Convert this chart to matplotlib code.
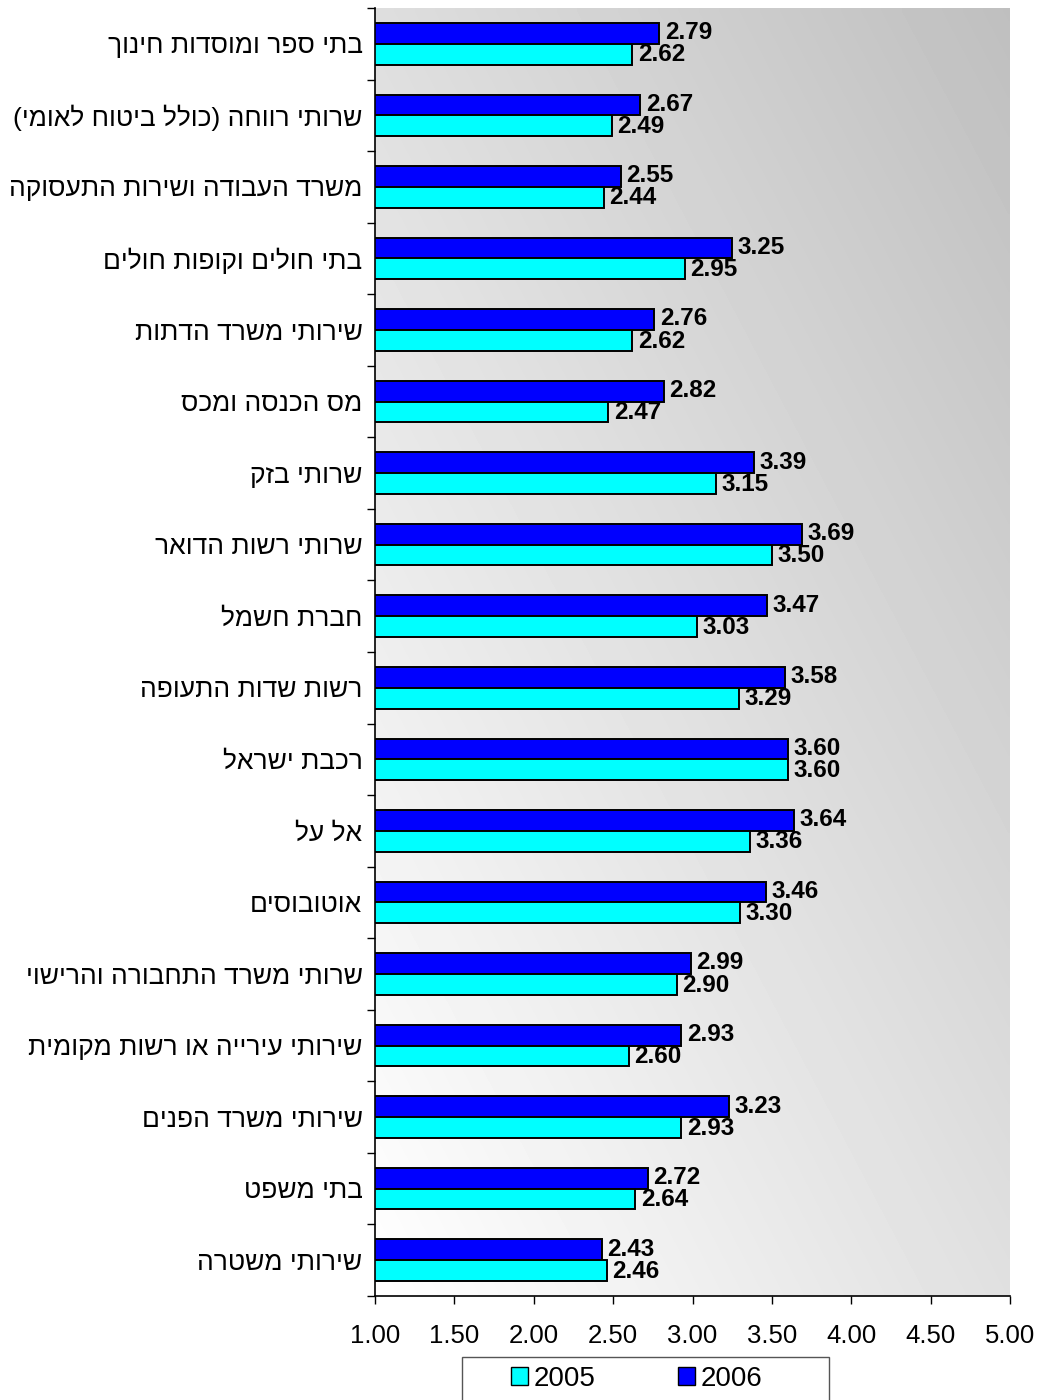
import matplotlib
matplotlib.use("Agg")
import matplotlib.pyplot as plt
import numpy as np
from matplotlib.patches import Patch, Rectangle

plt.rcParams['font.family'] = ['Liberation Sans', 'DejaVu Sans']

# קטגוריות (סדר מלמעלה למטה)
categories = [
    "בתי ספר ומוסדות חינוך",
    "שרותי רווחה (כולל ביטוח לאומי)",
    "משרד העבודה ושירות התעסוקה",
    "בתי חולים וקופות חולים",
    "שירותי משרד הדתות",
    "מס הכנסה ומכס",
    "שרותי בזק",
    "שרותי רשות הדואר",
    "חברת חשמל",
    "רשות שדות התעופה",
    "רכבת ישראל",
    "אל על",
    "אוטובוסים",
    "שרותי משרד התחבורה והרישוי",
    "שירותי עירייה או רשות מקומית",
    "שירותי משרד הפנים",
    "בתי משפט",
    "שירותי משטרה",
]
vals_2006 = [2.79, 2.67, 2.55, 3.25, 2.76, 2.82, 3.39, 3.69, 3.47,
             3.58, 3.60, 3.64, 3.46, 2.99, 2.93, 3.23, 2.72, 2.43]
vals_2005 = [2.62, 2.49, 2.44, 2.95, 2.62, 2.47, 3.15, 3.50, 3.03,
             3.29, 3.60, 3.36, 3.30, 2.90, 2.60, 2.93, 2.64, 2.46]
xticks = [1.00, 1.50, 2.00, 2.50, 3.00, 3.50, 4.00, 4.50, 5.00]


def rtl(s):
    # matplotlib אינו תומך ב-bidi: הופכים את המחרוזת ומחליפים סוגריים
    swap = {'(': ')', ')': '('}
    return ''.join(swap.get(c, c) for c in s[::-1])


W, H = 1042, 1400
fig = plt.figure(figsize=(W / 100, H / 100), dpi=100)
ax = fig.add_axes([375 / W, 1 - 1296 / H, 635 / W, (1296 - 8) / H])

# רקע מדורג
nx, ny = 200, 200
xf = np.linspace(0, 1, nx)[None, :]
yf = np.linspace(0, 1, ny)[:, None]
grad = (255 - 31 * xf - 33 * yf) / 255.0
ax.imshow(grad, cmap='gray', vmin=0, vmax=1, extent=(0, 1, 1, 0),
          transform=ax.transAxes, aspect='auto', zorder=0, interpolation='bilinear')

y = np.arange(len(categories))
h = 0.29
ax.barh(y - h / 2, vals_2006, height=h, left=0, color='#0000FF',
        edgecolor='black', linewidth=1.4, zorder=2)
ax.barh(y + h / 2, vals_2005, height=h, left=0, color='#00FFFF',
        edgecolor='black', linewidth=1.4, zorder=2)

for yi, v6, v5 in zip(y, vals_2006, vals_2005):
    ax.annotate(f"{v6:.2f}", (v6, yi - h / 2), xytext=(4, 0.5), textcoords='offset points',
                ha='left', va='center', fontsize=17.5, fontweight='bold', zorder=3)
    ax.annotate(f"{v5:.2f}", (v5, yi + h / 2), xytext=(4, -0.5), textcoords='offset points',
                ha='left', va='center', fontsize=17.5, fontweight='bold', zorder=3)

ax.set_xlim(1, 5)
ax.set_ylim(len(categories) - 0.5, -0.5)

ax.set_xticks(xticks)
ax.set_xticklabels([f"{t:.2f}" for t in xticks], fontsize=18.5)
ax.tick_params(axis='x', direction='out', length=6, width=1, pad=14)

ax.set_yticks(y)
ax.set_yticklabels([rtl(c) for c in categories], fontsize=19)
ax.set_yticks(np.arange(len(categories) + 1) - 0.5, minor=True)
ax.tick_params(axis='y', which='major', length=0, pad=9)
ax.tick_params(axis='y', which='minor', direction='out', length=6, width=1)

for s in ['top', 'right']:
    ax.spines[s].set_visible(False)
ax.spines['left'].set_linewidth(1.2)
ax.spines['bottom'].set_linewidth(1.2)

# מקרא
fig.patches.append(Rectangle((462 / W, -0.01), (829 - 462) / W, 0.01 + 1 - 1357 / H,
                             transform=fig.transFigure, facecolor='white',
                             edgecolor='#555555', linewidth=1))
handles = [Patch(facecolor='#00FFFF', edgecolor='black', label='2005'),
           Patch(facecolor='#0000FF', edgecolor='black', label='2006')]
fig.legend(handles=handles, loc='center left', bbox_to_anchor=(511 / W, 1 - 1379 / H),
           ncol=2, frameon=False, fontsize=20, handlelength=0.6, handleheight=0.6,
           handletextpad=0.2, columnspacing=3.0, borderpad=0, borderaxespad=0)

fig.savefig("out.png", dpi=100)
